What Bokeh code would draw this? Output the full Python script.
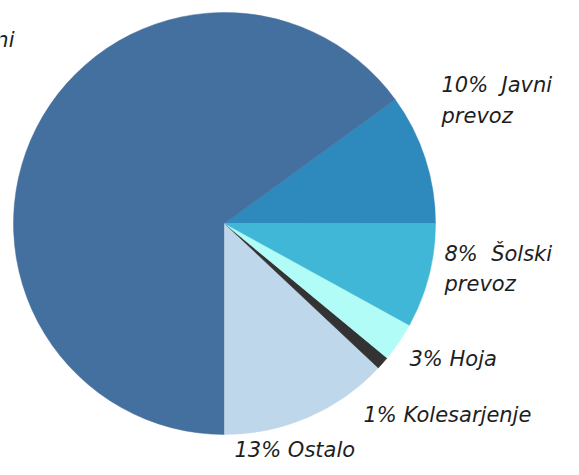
import math
from bokeh.plotting import figure
from bokeh.models import ColumnDataSource, Range1d
from bokeh.embed import file_html
from bokeh.resources import INLINE
from bokeh.core.properties import value

# ---- data (counter-clockwise from 3 o'clock) ----
categories = ["Javni prevoz", "Osebni avtomobil", "Ostalo", "Kolesarjenje", "Hoja", "Šolski prevoz"]
shares = [10, 65, 13, 1, 3, 8]
label_lines = [["10%\u00a0 Javni", "prevoz"], ["65%\u00a0 Osebni"], ["13% Ostalo"],
               ["1% Kolesarjenje"], ["3% Hoja"], ["8%\u00a0 Šolski", "prevoz"]]

# ---- styling / layout ----
colors = ["#2E89BC", "#44709F", "#BFD7EB", "#333333", "#B2FCF8", "#40B7D7"]
W, H = 563, 459          # figure size (fits the 579x475 window with 8px margins)
TOP = 475                # page-y reference
cx, cy, R = 224, TOP - 223, 211
# label anchors (x, baseline y in pixels from top), alignment
label_layout = [
    [(441, 84), (441, 115)],
    [(14, 39)],
    [(234, 449)],
    [(363, 414)],
    [(409, 358)],
    [(444, 253), (444, 283)],
]
label_align = ["left", "right", "left", "left", "left", "left"]

total = float(sum(shares))
starts, ends = [], []
acc = 0.0
for s in shares:
    starts.append(acc / total * 2 * math.pi)
    acc += s
    ends.append(acc / total * 2 * math.pi)

src = ColumnDataSource(dict(cat=categories, share=shares, start=starts, end=ends, color=colors))

p = figure(width=W, height=H, output_backend="svg", toolbar_location=None,
           x_range=Range1d(0, W), y_range=Range1d(TOP - H, TOP),
           min_border=0, background_fill_color="white", border_fill_color="white")
p.axis.visible = False
p.grid.visible = False
p.outline_line_color = None

p.wedge(x=cx, y=cy, radius=R, start_angle="start", end_angle="end",
        fill_color="color", line_color="color", line_width=0.5, source=src)

tx, ty, tt, ta = [], [], [], []
for lines, pos, al in zip(label_lines, label_layout, label_align):
    for t, (x, y) in zip(lines, pos):
        tx.append(x); ty.append(TOP - y); tt.append(t); ta.append(al)
lsrc = ColumnDataSource(dict(x=tx, y=ty, text=tt, align=ta))
p.text(x="x", y="y", text="text", text_align="align", text_baseline="alphabetic",
       text_font=value("DejaVu Sans"), text_font_style="italic",
       text_font_size="21px", text_color="#1E1E1E", source=lsrc)

open("out.html", "w").write(file_html(p, INLINE))
